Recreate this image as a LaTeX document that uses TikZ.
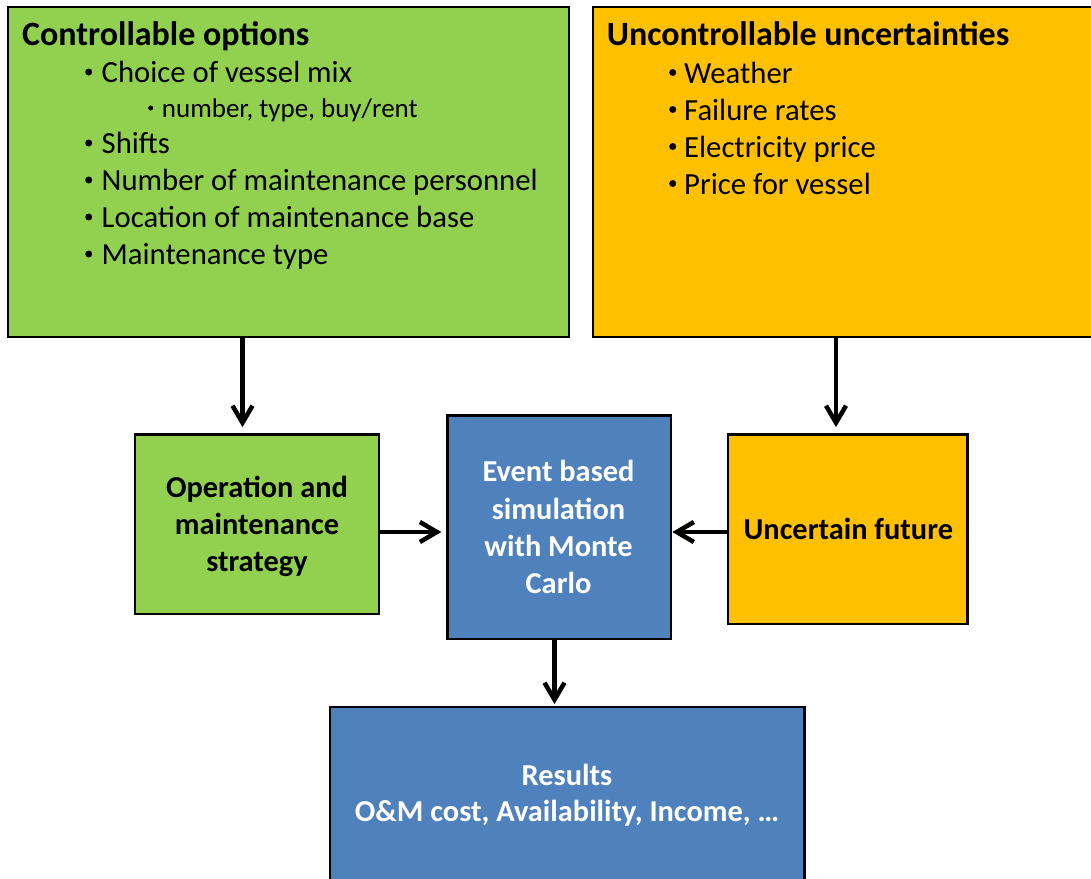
\documentclass[tikz,border=0pt]{standalone}
\usepackage{fontspec}
\setmainfont{Carlito}
\usetikzlibrary{arrows.meta}
\definecolor{cgreen}{HTML}{92D050}
\definecolor{corange}{HTML}{FFC000}
\definecolor{cblue}{HTML}{4F81BD}
\newcommand\fitem{\fontsize{30.7}{36.8}\selectfont}
\newcommand\fsubitem{\fontsize{27}{32}\selectfont}
\newcommand\ftitle{\bfseries\fontsize{34}{40}\selectfont}
\newcommand\fmid{\bfseries\fontsize{30.4}{36.5}\selectfont}
% bullet: diameter, centre height above baseline, gap to text
\newcommand\dotbul[3]{\makebox[0pt][r]{\tikz[baseline=0pt,x=1pt,y=1pt]\fill (#1/2,#2) circle (#1/2);\hspace{#3pt}}}
\begin{document}
\begin{tikzpicture}[x=1pt,y=-1pt,
  box/.style={draw=black,line width=2.75pt,rectangle,inner sep=0pt},
  txt/.style={inner sep=0pt,anchor=base west},
  ctxt/.style={inner sep=0pt,anchor=base},
  arr/.style={line width=4.5pt,-{Straight Barb[length=17pt,width=20pt]}}]
\clip (0,0) rectangle (1091,878);
\fill[white] (0,0) rectangle (1091,878);
% boxes
\node[box,fill=cgreen,minimum width=561pt,minimum height=330pt] (gtop) at (288.5,172) {};
\node[box,fill=corange,minimum width=527pt,minimum height=330pt] (otop) at (856.5,172) {};
\node[box,fill=cgreen,minimum width=244pt,minimum height=179.5pt] (gmid) at (257,524.25) {};
\node[box,fill=cblue,minimum width=223.5pt,minimum height=223.5pt] (blue) at (559.25,527.25) {};
\node[box,fill=corange,minimum width=239.5pt,minimum height=189.5pt] (omid) at (847.75,529.25) {};
\node[box,fill=cblue,minimum width=474.5pt,minimum height=213pt] (res) at (567.25,813.5) {};
% top left text
\node[txt] (gt) at (22,45) {\ftitle Controllable options};
\node[txt] (g1) at (101.5,82) {\fitem\dotbul{7}{10}{9.5}Choice of vessel mix};
\node[txt] (g1a) at (161.7,117.5) {\fsubitem\dotbul{5}{9.5}{8.7}number, type, buy/rent};
\node[txt] (g2) at (101.5,153) {\fitem\dotbul{7}{10}{9.5}Shifts};
\node[txt] (g3) at (101.5,190) {\fitem\dotbul{7}{10}{9.5}Number of maintenance personnel};
\node[txt] (g4) at (101.5,227) {\fitem\dotbul{7}{10}{9.5}Location of maintenance base};
\node[txt] (g5) at (101.5,264) {\fitem\dotbul{7}{10}{9.5}Maintenance type};
% top right text
\node[txt] (ot) at (606.7,45) {\ftitle Uncontrollable uncertainties};
\node[txt] (o1) at (684,83) {\fitem\dotbul{7}{10.5}{8}Weather};
\node[txt] (o2) at (684,120) {\fitem\dotbul{7}{10.5}{8}Failure rates};
\node[txt] (o3) at (684,157) {\fitem\dotbul{7}{10.5}{8}Electricity price};
\node[txt] (o4) at (684,194) {\fitem\dotbul{7}{10.5}{8}Price for vessel};
% middle texts
\node[ctxt] (m1) at (257,497.5) {\fmid Operation and};
\node[ctxt] (m2) at (257,534.5) {\fmid maintenance};
\node[ctxt] (m3) at (257,571.5) {\fmid strategy};
\node[ctxt,text=white] (b1) at (558.5,481.7) {\fmid Event based};
\node[ctxt,text=white] (b2) at (558.5,519) {\fmid simulation};
\node[ctxt,text=white] (b3) at (558.5,556) {\fmid with Monte};
\node[ctxt,text=white] (b4) at (558.5,593.3) {\fmid Carlo};
\node[ctxt] (u1) at (848.3,539.3) {\fmid Uncertain future};
\node[ctxt,text=white] (r1) at (567,785) {\fmid Results};
\node[ctxt,text=white] (r2) at (567,821.7) {\fmid O\&M cost, Availability, Income, …};
% connectors
\coordinate (c1) at (242.5,0);
\coordinate (c2) at (836,0);
\coordinate (c3) at (0,532);
\coordinate (c4) at (554.5,0);
\draw[arr,shorten >=6pt] (gtop.south -| c1) -- (gmid.north -| c1);
\draw[arr,shorten >=6pt] (otop.south -| c2) -- (omid.north -| c2);
\draw[arr,shorten >=4.8pt] (gmid.east |- c3) -- (blue.west |- c3);
\draw[arr,shorten >=0pt] (omid.west |- c3) -- (blue.east |- c3);
\draw[arr,shorten >=1.5pt] (blue.south -| c4) -- (res.north -| c4);
\end{tikzpicture}
\end{document}
